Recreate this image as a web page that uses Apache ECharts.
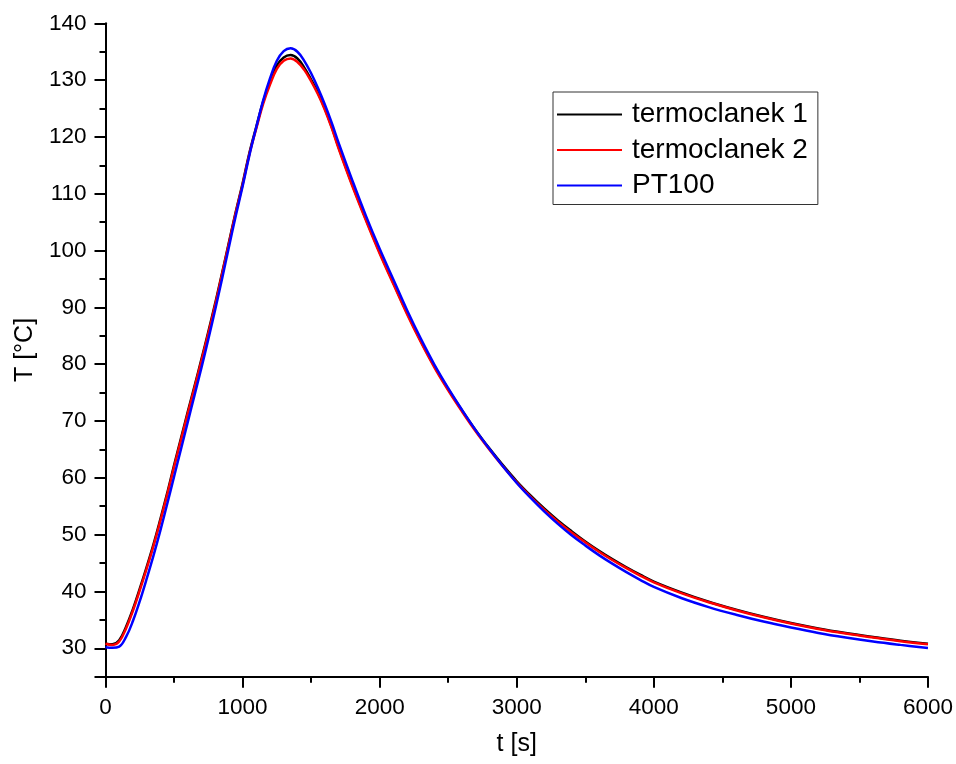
<!DOCTYPE html>
<html>
<head>
<meta charset="utf-8">
<script src="https://cdn.jsdelivr.net/npm/echarts@6/dist/echarts.min.js"></script>
<style>
html,body{margin:0;padding:0;background:#fff;}
#chart{width:956px;height:764px;}
</style>
</head>
<body>
<div id="chart"></div>
<script>
// time grid [s]
var timeS = [0,50,100,150,200,250,300,350,400,450,500,550,600,650,700,750,800,850,900,950,1000,1050,1100,1150,1200,1250,1300,1350,1400,1450,1500,1550,1600,1650,1700,
  1800,1900,2000,2100,2200,2300,2400,2500,2600,2700,2800,2900,3000,3100,3200,3300,3400,3500,3600,3700,3800,3900,4000,
  4200,4400,4600,4800,5000,5200,5400,5600,5800,6000];

// termoclanek 1 [°C]
var termo1 = [30.8,30.7,31.4,33.8,36.9,40.5,44.3,48.3,52.7,57.3,62.2,66.9,71.6,76.2,80.9,85.7,90.7,96.0,101.4,106.8,111.8,117.2,121.8,126.2,129.7,132.6,134.0,134.4,133.8,132.2,130.1,127.8,125.0,121.8,118.2,
  111.6,105.5,99.7,94.3,89.0,84.1,79.6,75.6,71.9,68.4,65.2,62.2,59.4,56.9,54.6,52.5,50.6,48.8,47.15,45.65,44.25,42.95,41.75,
  39.85,38.2,36.8,35.55,34.45,33.5,32.7,32.0,31.35,30.8];

// termoclanek 2 [°C]
var termo2 = [30.8,30.6,31.2,33.5,36.6,40.2,44.0,48.0,52.4,57.0,61.9,66.6,71.3,75.9,80.6,85.4,90.4,95.8,101.2,106.6,111.6,117.0,121.5,125.8,129.2,132.0,133.4,133.8,133.2,131.8,129.8,127.5,124.8,121.6,118.0,
  111.4,105.3,99.5,94.1,88.8,83.9,79.4,75.4,71.7,68.2,65.0,62.0,59.2,56.7,54.4,52.3,50.4,48.65,47.0,45.5,44.1,42.8,41.6,
  39.7,38.1,36.7,35.45,34.35,33.4,32.6,31.9,31.25,30.7];

// PT100 [°C]
var pt100 = [30.2,30.1,30.3,32.0,34.8,38.3,42.2,46.3,50.7,55.4,60.2,65.0,69.8,74.6,79.4,84.4,89.6,95.0,100.6,106.1,111.3,116.8,121.7,126.4,130.3,133.4,135.1,135.6,135.0,133.4,131.2,128.6,125.7,122.5,119.0,
  112.4,106.1,100.3,94.9,89.5,84.5,79.9,75.8,72.0,68.4,65.1,62.0,59.1,56.5,54.1,51.9,49.9,48.1,46.4,44.85,43.4,42.05,40.8,
  38.85,37.25,35.9,34.7,33.65,32.7,31.9,31.2,30.6,30.05];

var seriesNames = ['termoclanek 1','termoclanek 2','PT100'];
var yMajorTicks = [25,30,40,50,60,70,80,90,100,110,120,130,140];
var yLabelValues = [30,40,50,60,70,80,90,100,110,120,130,140];
var yMinorTicks = [35,45,55,65,75,85,95,105,115,125,135];

function pairs(xs, ys){ return xs.map(function(x,i){ return [x, ys[i]]; }); }

var FONT = '"Liberation Sans", Arial, sans-serif';
var chart = echarts.init(document.getElementById('chart'), null, {renderer:'canvas'});
var axisLineStyle = {color:'#000', width:2};

chart.setOption({
  animation:false,
  backgroundColor:'#fff',
  textStyle:{fontFamily:FONT},
  grid:{left:105.5, right:27.7, top:23.3, bottom:87.3, containLabel:false},
  legend:{
    orient:'vertical', left:553, top:92,
    padding:[7.5,10,4,4], itemGap:5.5, itemWidth:65, itemHeight:14,
    borderColor:'#333', borderWidth:1, borderRadius:0,
    textStyle:{fontFamily:FONT, fontSize:28, color:'#000', lineHeight:30, padding:[0,0,0,5]},
    data:seriesNames.map(function(n){return {name:n, icon:'path://M0,0 L65,0 L65,2 L0,2 Z'};})
  },
  xAxis:{
    type:'value', min:0, max:6000, interval:1000,
    name:'t [s]', nameLocation:'middle', nameGap:55,
    nameTextStyle:{fontFamily:FONT, fontSize:25, color:'#000'},
    axisLine:{show:true, onZero:false, lineStyle:axisLineStyle},
    axisTick:{show:true, length:11, inside:false, lineStyle:axisLineStyle},
    minorTick:{show:true, splitNumber:2, length:6, lineStyle:axisLineStyle},
    axisLabel:{fontFamily:FONT, fontSize:22.5, color:'#000', margin:20, formatter:function(v){return String(v);}},
    splitLine:{show:false}, minorSplitLine:{show:false}
  },
  yAxis:[{
    type:'value', min:25, max:140, position:'left',
    name:'T [°C]', nameLocation:'middle', nameGap:59, nameRotate:90,
    nameTextStyle:{fontFamily:FONT, fontSize:25, color:'#000'},
    axisLine:{show:true, onZero:false, lineStyle:axisLineStyle},
    axisTick:{show:true, length:11, customValues:yMajorTicks, lineStyle:axisLineStyle},
    axisLabel:{fontFamily:FONT, fontSize:22.5, color:'#000', margin:19, customValues:yLabelValues, formatter:function(v){return String(v);}},
    splitLine:{show:false}
  },{
    type:'value', min:25, max:140, position:'left', offset:0,
    axisLine:{show:false},
    axisTick:{show:true, length:6, customValues:yMinorTicks, lineStyle:axisLineStyle},
    axisLabel:{show:false, customValues:[]},
    splitLine:{show:false}
  }],
  series:[
    {name:seriesNames[0], type:'line', data:pairs(timeS, termo1), symbol:'none', smooth:0.4, yAxisIndex:0,
     lineStyle:{color:'#000000', width:2.5}, itemStyle:{color:'#000000'}, z:2},
    {name:seriesNames[1], type:'line', data:pairs(timeS, termo2), symbol:'none', smooth:0.4, yAxisIndex:0,
     lineStyle:{color:'#ff0000', width:2.5}, itemStyle:{color:'#ff0000'}, z:3},
    {name:seriesNames[2], type:'line', data:pairs(timeS, pt100), symbol:'none', smooth:0.4, yAxisIndex:0,
     lineStyle:{color:'#0000ff', width:2.5}, itemStyle:{color:'#0000ff'}, z:4}
  ]
});
</script>
</body>
</html>
